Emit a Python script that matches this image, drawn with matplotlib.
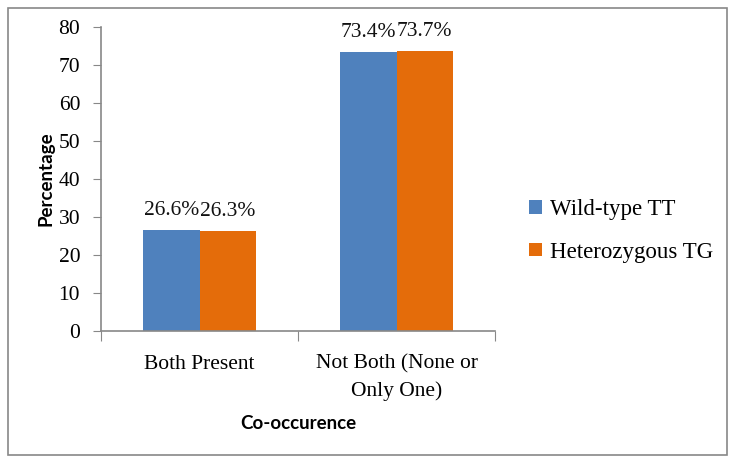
import matplotlib
matplotlib.use("Agg")
import matplotlib.pyplot as plt
import numpy as np
from matplotlib.patches import Rectangle

categories = ["Both Present", "Not Both (None or\nOnly One)"]
series_names = ["Wild-type TT", "Heterozygous TG"]
wild_type = [26.6, 73.4]
heterozygous = [26.3, 73.7]
colors = ["#4F81BD", "#E46C0A"]
yticks = [0, 10, 20, 30, 40, 50, 60, 70, 80]

serif = ["Liberation Serif", "DejaVu Serif"]
sans_bold = ["Lato", "DejaVu Sans"]
FS = 15.5

fig = plt.figure(figsize=(7.35, 4.63), dpi=100)
ax = fig.add_axes([101/735, 1 - 331/463, (495 - 101)/735, (331 - 27)/463])

x = np.arange(len(categories))
w = 0.286
for i, (vals, name, c) in enumerate(zip([wild_type, heterozygous], series_names, colors)):
    pos = x + (i - 0.5) * w
    bars = ax.bar(pos, vals, width=w, color=c, label=name)
    for b, v in zip(bars, vals):
        ax.text(b.get_x() + b.get_width()/2, v + 2.6, f"{v}%", ha="center", va="bottom",
                fontsize=FS, family=serif, color="#111111")

ax.set_xlim(-0.5, len(categories) - 0.5)
ax.set_ylim(0, 80)
ax.set_yticks(yticks)
ax.set_yticklabels([str(t) for t in yticks], fontsize=FS, family=serif)
ax.set_xticks(np.arange(-0.5, len(categories), 1.0))
ax.set_xticklabels([])
ax.set_xticks(x, minor=True)
ax.set_xticklabels(categories, minor=True, fontsize=FS, family=serif, linespacing=1.5)
ax.tick_params(axis="x", which="minor", length=0, pad=17)
ax.tick_params(axis="x", which="major", length=7, color="#888888", direction="out")
ax.tick_params(axis="y", length=6, color="#888888", direction="out", pad=9)

for s in ["top", "right"]:
    ax.spines[s].set_visible(False)
for s in ["left", "bottom"]:
    ax.spines[s].set_color("#888888")
    ax.spines[s].set_linewidth(1.2)

ax.set_ylabel("Percentage", fontsize=13.5, family=sans_bold, fontweight="bold", labelpad=3)
ax.set_xlabel("Co-occurence", fontsize=13.5, family=sans_bold, fontweight="bold", labelpad=10)

leg = ax.legend(loc="center left", bbox_to_anchor=(1.035, 0.33), frameon=False,
                prop={"family": serif, "size": 16.5}, handlelength=0.55, handleheight=0.55,
                handletextpad=0.35, labelspacing=0.95)

fig.patches.append(Rectangle((8/735, 1 - 455/463), (727 - 8)/735, (455 - 8)/463,
                             transform=fig.transFigure, fill=False, edgecolor="#888888",
                             linewidth=1.2))

fig.savefig("out.png", dpi=100)
